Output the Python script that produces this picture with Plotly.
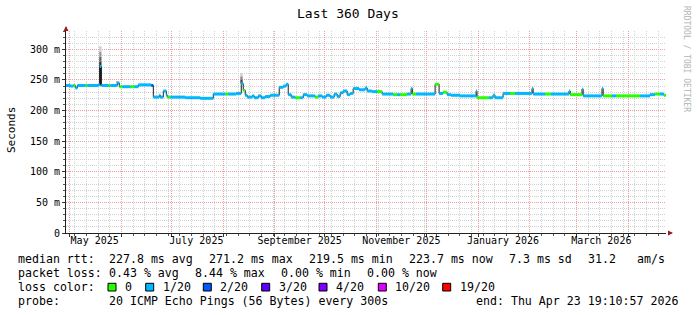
import plotly.graph_objects as go
import pandas as pd

START = pd.Timestamp("2025-04-28 19:10:57")
END = pd.Timestamp("2026-04-23 19:10:57")

# median rtt: day offset from START, value in ms, loss class index
day = [0, 2.64, 4.44, 5.64, 6.83, 11.63, 12.83, 19.42, 20.32, 21.22, 25.42, 26.62,
       30.82, 32.01, 33.81, 38.61, 41.01, 43.41, 51.20, 52.40, 56.00, 56.59, 58.39,
       60.19, 60.79, 62.59, 71.58, 80.58, 88.37, 95.56, 97.36, 102.16, 105.16, 106.35,
       107.55, 108.75, 111.75, 112.95, 115.35, 117.15, 119.54, 122.54, 127.94, 130.34,
       132.13, 133.33, 135.13, 137.53, 140.53, 142.33, 144.72, 149.52, 151.32, 153.72,
       156.12, 158.51, 160.91, 162.71, 164.51, 166.31, 168.71, 170.50, 172.30, 175.90,
       179.50, 180.70, 183.69, 186.69, 189.69, 196.28, 198.68, 200.48, 204.68, 207.07,
       207.8, 210.07, 221.46, 223.86, 226.26, 228.66, 231.06, 236.45, 246.04, 246.6,
       253.84, 256.24, 257.43, 262.23, 266.43, 269.42, 279.62, 280.3, 287.41, 291.01,
       301.80, 302.5, 309.59, 310.3, 321.58, 322.3, 327.58, 329.98, 344.36, 350.36,
       353.36, 356.35, 358.75]
rtt_ms = [241, 240, 241, 237, 241, 241, 241, 242, 272, 241, 241, 241,
          245, 239, 239, 239, 239, 242, 241, 222, 225, 222, 232,
          225, 222, 222, 221, 220, 227, 227, 227, 228, 244, 233,
          225, 222, 224, 221, 224, 221, 223, 225, 238, 240,
          243, 226, 222, 221, 221, 226, 224, 222, 224, 222,
          225, 222, 227, 223, 229, 232, 226, 228, 236, 234,
          237, 232, 231, 231, 227, 226, 226, 226, 227, 236,
          227, 227, 243, 228, 230, 226, 225, 224, 232, 221,
          221, 225, 221, 228, 228, 228, 236, 227, 227, 227,
          232, 226, 235, 224, 236, 224, 224, 224, 224, 226,
          227, 227, 225]
loss = [1, 1, 0, 1, 1, 0, 1, 1, 1, 1, 0, 1,
        1, 0, 1, 0, 1, 1, 2, 1, 1, 1, 1,
        1, 0, 1, 1, 1, 1, 0, 1, 1, 1, 0,
        1, 1, 1, 1, 1, 1, 1, 1, 1, 1,
        1, 1, 1, 0, 1, 1, 1, 0, 1, 1,
        1, 1, 1, 1, 1, 1, 1, 1, 1, 1,
        1, 1, 1, 0, 1, 0, 1, 0, 1, 1,
        0, 1, 0, 1, 0, 1, 1, 1, 1, 0,
        1, 1, 1, 1, 0, 1, 1, 1, 0, 1,
        1, 0, 1, 1, 1, 0, 1, 0, 1, 1,
        0, 1, 0]

# smoke (ping spread) bands at the spikes: day offset, bottom, top (ms), shade
smoke_day = [20.6, 20.6, 20.6, 20.6, 20.6, 30.8, 105.3, 105.3, 105.3]
smoke_bottom = [241, 272, 280, 288, 296, 244, 244, 250, 256]
smoke_top = [272, 280, 288, 296, 305, 248, 250, 256, 261]
smoke_shade = ["#1a1a1a", "#333333", "#666666", "#999999", "#cccccc", "#aaaaaa",
               "#444444", "#888888", "#cccccc"]

loss_labels = ["0", "1/20", "2/20", "3/20", "4/20", "10/20", "19/20"]
loss_colors = ["#26ff00", "#00b8ff", "#0059ff", "#5e00ff", "#7e00ff", "#dd00ff", "#ff0000"]

y_ticks = [0, 50, 100, 150, 200, 250, 300]
y_ticktext = ["0", "50 m", "100 m", "150 m", "200 m", "250 m", "300 m"]
month_starts = ["2025-05-01", "2025-06-01", "2025-07-01", "2025-08-01", "2025-09-01",
                "2025-10-01", "2025-11-01", "2025-12-01", "2026-01-01", "2026-02-01",
                "2026-03-01", "2026-04-01"]
month_labels = ["May 2025", "July 2025", "September 2025", "November 2025",
                "January 2026", "March 2026"]
month_label_pos = ["2025-05-16", "2025-07-16", "2025-09-16", "2025-11-16",
                   "2026-01-16", "2026-03-16"]

rtt_row = ["median rtt:", "227.8 ms avg", "271.2 ms max", "219.5 ms min",
           "223.7 ms now", "7.3 ms sd", "31.2", "am/s"]
loss_row = ["packet loss:", "0.43 % avg", "8.44 % max", "0.00 % min", "0.00 % now"]
probe_row = ["probe:", "20 ICMP Echo Pings (56 Bytes) every 300s"]
end_text = "end: Thu Apr 23 19:10:57 2026"

# ---------------------------------------------------------------
W, H = 697, 315
L, R, T, B = 66, 31, 31, 82
PW, PH = W - L - R, H - T - B
MONO = "DejaVu Sans Mono"


def px(x):
    return (x - L) / PW


def py(y):
    return (H - B - y) / PH


def nb(s):
    return s.replace(" ", "\u00a0")


times = [START + pd.Timedelta(days=d) for d in day]
t_end = times[1:] + [END]

fig = go.Figure()

# smoke
for d, lo, hi, c in zip(smoke_day, smoke_bottom, smoke_top, smoke_shade):
    fig.add_trace(go.Bar(x=[START + pd.Timedelta(days=d)], y=[hi - lo], base=[lo],
                         width=[1.4 * 86400000], marker=dict(color=c, line=dict(width=0)),
                         showlegend=False, hoverinfo="skip"))

# dark step line (transitions)
fig.add_trace(go.Scatter(x=times + [END], y=rtt_ms + [rtt_ms[-1]], mode="lines",
                         line=dict(color="#1e1e1e", width=1, shape="hv"),
                         showlegend=False, hoverinfo="skip"))

# coloured median segments by loss
for ci, col in enumerate(loss_colors):
    xs, ys = [], []
    for t0, t1, v, c in zip(times, t_end, rtt_ms, loss):
        if c == ci:
            xs += [t0, t1, None]
            ys += [v, v, None]
    if xs:
        fig.add_trace(go.Scatter(x=xs, y=ys, mode="lines",
                                 line=dict(color=col, width=3),
                                 showlegend=False, hoverinfo="skip"))

# invisible trace to host label axis
fig.add_trace(go.Scatter(x=[START], y=[0], xaxis="x2", mode="markers",
                         marker=dict(opacity=0), showlegend=False, hoverinfo="skip"))

MGRID = "#eaa0a0"
GRID = "#d2d2d2"

fig.update_layout(
    width=W, height=H, margin=dict(l=L, r=R, t=T, b=B),
    paper_bgcolor="white", plot_bgcolor="white", barmode="overlay",
    font=dict(family=MONO, size=10, color="black"),
    xaxis=dict(type="date", range=[START, END], tickmode="array", tickvals=month_starts,
               ticktext=[""] * len(month_starts), showgrid=True, gridcolor=MGRID,
               griddash="1px,1px", gridwidth=1, ticks="outside", ticklen=3,
               tickcolor="#333", showline=True, linecolor="#222", linewidth=1,
               zeroline=False, fixedrange=True,
               minor=dict(tickmode="linear", tick0="2025-05-04", dtick=7 * 86400000,
                          showgrid=True, gridcolor=GRID, griddash="1px,1px",
                          ticks="outside", ticklen=2, tickcolor="#555")),
    xaxis2=dict(type="date", range=[START, END], overlaying="x", anchor="y", side="bottom",
                tickmode="array", tickvals=month_label_pos, ticktext=month_labels,
                showgrid=False, showline=False, ticks="", zeroline=False,
                tickfont=dict(family=MONO, size=10, color="black")),
    yaxis=dict(range=[0, 330], tickmode="array", tickvals=y_ticks, ticktext=y_ticktext,
               showgrid=True, gridcolor=MGRID, griddash="1px,1px", gridwidth=1,
               ticks="outside", ticklen=3, tickcolor="#333", showline=True,
               linecolor="#222", linewidth=1, zeroline=False,
               tickfont=dict(family=MONO, size=10, color="black"),
               minor=dict(tickmode="linear", tick0=0, dtick=10, showgrid=True,
                          gridcolor=GRID, griddash="1px,1px", ticks="outside",
                          ticklen=2, tickcolor="#555")),
)

ann = []
ann.append(dict(text="Last 360 Days", x=px(348), y=py(14), xref="paper", yref="paper",
                showarrow=False, xanchor="center", yanchor="middle",
                font=dict(family=MONO, size=13, color="black")))
ann.append(dict(text="Seconds", x=px(11), y=py(130), xref="paper", yref="paper",
                showarrow=False, textangle=-90, xanchor="center", yanchor="middle",
                font=dict(family=MONO, size=11, color="black")))
ann.append(dict(text="RRDTOOL / TOBI OETIKER", x=px(687), y=py(59), xref="paper",
                yref="paper", showarrow=False, textangle=90, xanchor="center",
                yanchor="middle", font=dict(family=MONO, size=8, color="#b4b4b4")))
# axis arrows
ann.append(dict(text="", x=px(66), y=py(26), xref="paper", yref="paper", showarrow=True,
                ax=0, ay=6, arrowhead=2, arrowsize=1.0, arrowwidth=1.0,
                arrowcolor="#a01818"))
ann.append(dict(text="", x=px(673), y=py(233), xref="paper", yref="paper", showarrow=True,
                ax=-6, ay=0, arrowhead=2, arrowsize=1.0, arrowwidth=1.0,
                arrowcolor="#a01818"))

LEG = dict(family=MONO, size=11.6, color="black")
rows = [(rtt_row, [16, 107.3, 207.3, 306.7, 407.3, 507.3, 586, 635], 259.3),
        (loss_row, [16, 107.3, 192.7, 279.3, 365], 273.3),
        (probe_row, [16, 107.3], 301.3)]
for items, xpos, yy in rows:
    for txt, xx in zip(items, xpos):
        ann.append(dict(text=nb(txt), x=px(xx), y=py(yy), xref="paper", yref="paper",
                        showarrow=False, xanchor="left", yanchor="middle", font=LEG))
ann.append(dict(text=nb(end_text), x=px(680), y=py(301.3), xref="paper", yref="paper",
                showarrow=False, xanchor="right", yanchor="middle", font=LEG))
ann.append(dict(text=nb("loss color:"), x=px(16), y=py(287.3), xref="paper", yref="paper",
                showarrow=False, xanchor="left", yanchor="middle", font=LEG))

box_left = [108, 145.7, 203.3, 261.7, 319, 378.3, 442.7]
shapes = []
for bx, lab, col in zip(box_left, loss_labels, loss_colors):
    shapes.append(dict(type="rect", xref="paper", yref="paper", x0=px(bx), x1=px(bx + 8),
                       y0=py(291), y1=py(283.3), fillcolor=col,
                       line=dict(color="black", width=1)))
    ann.append(dict(text=nb(lab), x=px(bx + 15), y=py(287.3), xref="paper", yref="paper",
                    showarrow=False, xanchor="left", yanchor="middle", font=LEG))

fig.update_layout(annotations=ann, shapes=shapes)
fig.write_html("out.html")
